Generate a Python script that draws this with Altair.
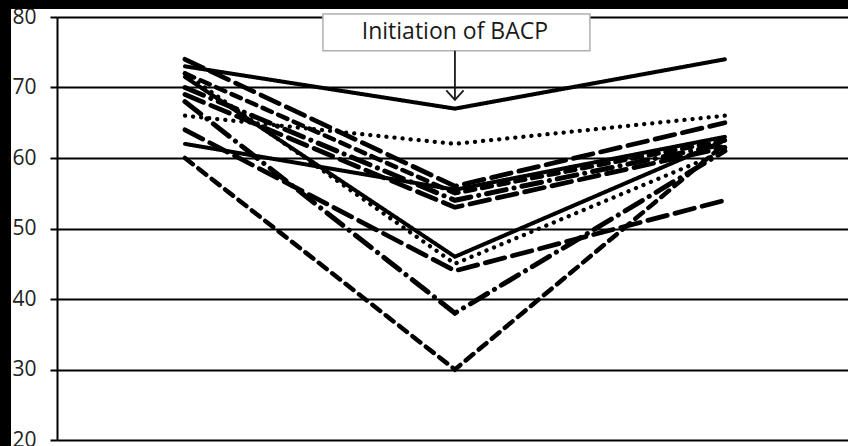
import altair as alt
import pandas as pd

# Three time points: before, at initiation of BACP, after
times = [1, 2, 3]

# Value at each time point for every patient line
series = ["p1", "p2", "p3", "p4", "p5", "p6", "p7", "p8", "p9", "p10", "p11", "p12"]
before = [73, 66, 62, 74, 72, 70, 69, 71.5, 72, 64, 68, 60]
during = [67, 62, 55.5, 56, 55, 54, 53, 46, 45, 44, 38, 30]
after = [74, 66, 63, 65, 62.5, 62, 61.5, 62.5, 61, 54, 61, 62]

# Line style per patient
styles = ["solid", "dot", "solid", "longdash", "dash", "dashdot",
          "longdash", "solid", "dot", "longdash", "dashdot", "dash"]
dash_patterns = {
    "solid": [1, 0],
    "dot": [0.1, 8],
    "dash": [10, 7],
    "longdash": [20, 8],
    "dashdot": [20, 8, 0.1, 8],
}
stroke_widths = {"solid": 4, "dot": 5, "dash": 4, "longdash": 4, "dashdot": 4}

y_ticks = [20, 30, 40, 50, 60, 70, 80]
annotation = "Initiation of BACP"

rows = []
for i, s in enumerate(series):
    for t, v in zip(times, [before[i], during[i], after[i]]):
        rows.append({"series": s, "time": t, "value": v, "style": styles[i]})
df = pd.DataFrame(rows)

W, H = 791, 423
x_scale = alt.Scale(domain=[0.526, 3.456], nice=False, zero=False)
y_scale = alt.Scale(domain=[20, 80], nice=False, zero=False)
style_names = list(dash_patterns.keys())

# Dark frame along the top and left edges of the page
frame = alt.Chart(pd.DataFrame({"a": [0]}))
frame_top = frame.mark_rect(color="black", clip=False).encode(
    x=alt.value(-57), x2=alt.value(W), y=alt.value(-17), y2=alt.value(-8)
)
frame_left = frame.mark_rect(color="black", clip=False).encode(
    x=alt.value(-57), x2=alt.value(-46), y=alt.value(-17), y2=alt.value(H + 6)
)

lines = alt.Chart(df).mark_line(
    color="black", strokeCap="round", strokeJoin="miter"
).encode(
    x=alt.X("time:Q", scale=x_scale, axis=None),
    y=alt.Y(
        "value:Q", scale=y_scale,
        axis=alt.Axis(values=y_ticks, title=None, grid=True, gridColor="black",
                      gridWidth=2, gridOpacity=1, domainColor="black",
                      domainWidth=2, tickColor="black", tickWidth=2, tickSize=7,
                      labelFont="Open Sans", labelFontSize=21, labelColor="#222",
                      labelPadding=14),
    ),
    detail="series:N",
    strokeDash=alt.StrokeDash(
        "style:N",
        scale=alt.Scale(domain=style_names,
                        range=[dash_patterns[k] for k in style_names]),
        legend=None,
    ),
    strokeWidth=alt.StrokeWidth(
        "style:N",
        scale=alt.Scale(domain=style_names,
                        range=[stroke_widths[k] for k in style_names]),
        legend=None,
    ),
)

box_df = pd.DataFrame({"x": [1.511], "x2": [2.5], "y": [80.43], "y2": [75.2],
                       "label": [annotation], "tx": [2.0], "ty": [77.85]})
box = alt.Chart(box_df).mark_rect(
    fill="white", stroke="#b0b0b0", strokeWidth=1.5, clip=False
).encode(
    x=alt.X("x:Q", scale=x_scale), x2="x2:Q",
    y=alt.Y("y:Q", scale=y_scale), y2="y2:Q",
)
label = alt.Chart(box_df).mark_text(
    font="Open Sans", fontSize=23, color="#1a1a1a", align="center",
    baseline="middle", clip=False
).encode(
    x=alt.X("tx:Q", scale=x_scale), y=alt.Y("ty:Q", scale=y_scale), text="label:N"
)

arrow_df = pd.DataFrame({"x": [2.0], "y": [75.2], "y2": [68.25]})
shaft = alt.Chart(arrow_df).mark_rule(color="#1a1a1a", strokeWidth=1.8).encode(
    x=alt.X("x:Q", scale=x_scale), y=alt.Y("y:Q", scale=y_scale), y2="y2:Q"
)
head = alt.Chart(arrow_df).mark_point(
    shape="M-1,-1.1L0,0L1,-1.1", filled=False, color="#1a1a1a",
    strokeWidth=1.8, size=300, opacity=1
).encode(
    x=alt.X("x:Q", scale=x_scale), y=alt.Y("y2:Q", scale=y_scale)
)

chart = alt.layer(lines, box, label, shaft, head, frame_top, frame_left).properties(
    width=W, height=H,
    autosize=alt.AutoSizeParams(type="none"),
    padding={"left": 57, "top": 17, "right": 0, "bottom": 6},
    background="white",
).configure_view(stroke=None, fill="white")

chart.save("out.html", embed_options={"renderer": "svg", "actions": False})
